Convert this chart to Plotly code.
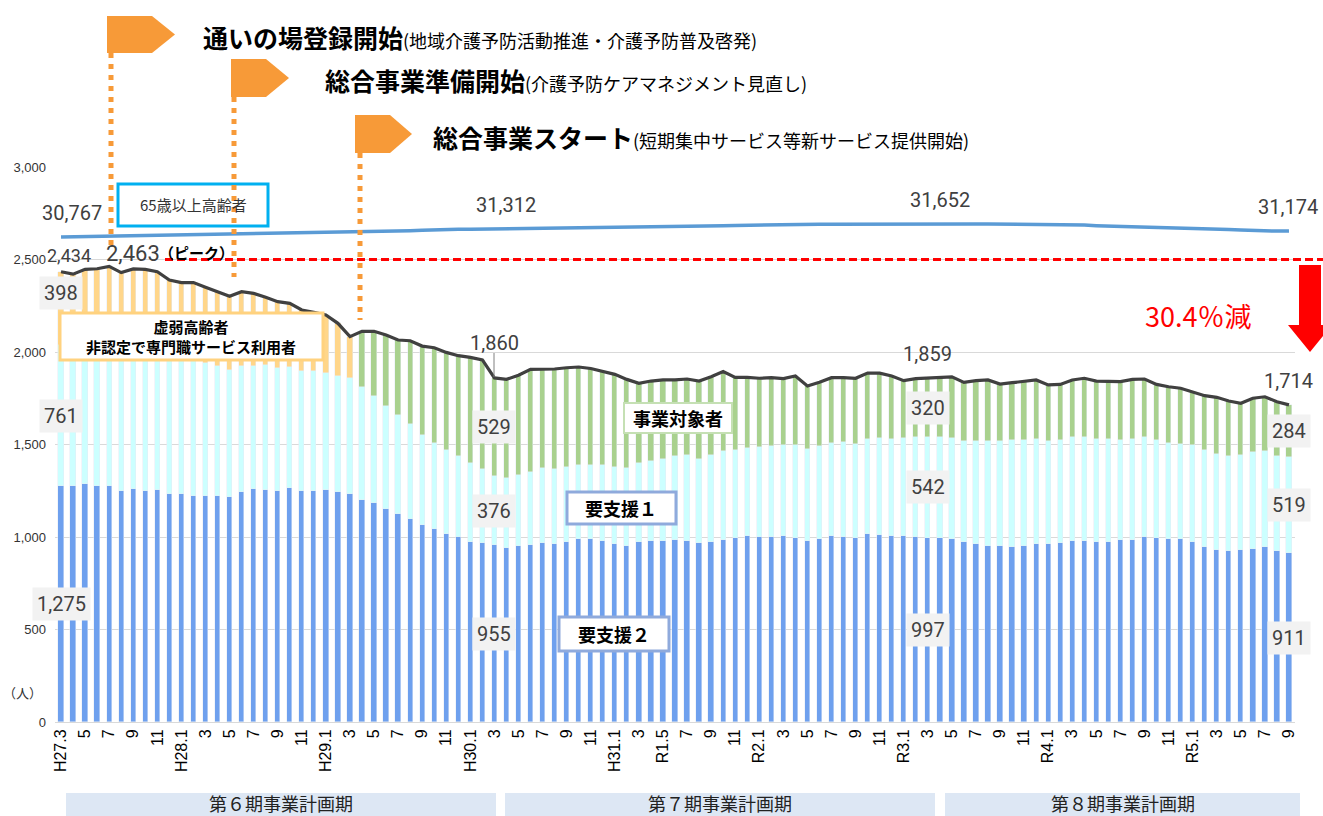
import plotly.graph_objects as go

# ---------------- data ----------------
# monthly categories H27.3 (2015-03) .. R5.9 (2023-09)
categories = []
y, m = 2015, 3
while (y, m) <= (2023, 9):
    categories.append(f"{y}-{m:02d}")
    m += 1
    if m > 12:
        m, y = 1, y + 1

tick_labels = ["H27.3", "5", "7", "9", "11",
               "H28.1", "3", "5", "7", "9", "11",
               "H29.1", "3", "5", "7", "9", "11",
               "H30.1", "3", "5", "7", "9", "11",
               "H31.1", "3", "R1.5", "7", "9", "11",
               "R2.1", "3", "5", "7", "9", "11",
               "R3.1", "3", "5", "7", "9", "11",
               "R4.1", "3", "5", "7", "9", "11",
               "R5.1", "3", "5", "7", "9"]

# 要支援２
yoshien2 = [1275, 1278, 1286, 1278, 1276, 1248, 1262, 1248, 1254, 1232, 1235, 1221, 1219,
             1221, 1216, 1243, 1259, 1254, 1246, 1265, 1248, 1248, 1254, 1243, 1232,
             1200, 1182, 1150, 1123, 1095, 1064, 1041, 1017, 1001, 974, 967, 955, 943,
             951, 956, 969, 962, 971, 987, 988, 976, 964, 951, 972, 978, 978, 983, 981,
             967, 972, 983, 994, 1005, 1002, 1002, 1005, 994, 980, 991, 1005, 998, 994,
             1016, 1010, 1008, 1005, 999, 997, 996, 988, 972, 960, 951, 951, 945, 951,
             962, 962, 969, 978, 978, 972, 972, 983, 985, 999, 994, 987, 991, 972, 945,
             929, 927, 932, 934, 945, 927, 911]
# 要支援１
yoshien1 = [761, 752, 749, 747, 744, 747, 738, 742, 731, 743, 733, 737, 722,
             701, 685, 683, 667, 678, 666, 656, 651, 648, 633, 625, 628,
             611, 579, 557, 535, 518, 486, 467, 455, 435, 426, 401, 376, 376,
             386, 394, 404, 408, 409, 404, 403, 412, 413, 422, 428, 435, 444, 453, 461,
             455, 470, 480, 478, 476, 485, 492, 494, 502, 496, 499, 503, 514, 509,
             516, 525, 524, 530, 542, 542, 545, 547, 545, 557, 566, 566, 581, 575,
             570, 555, 553, 563, 561, 558, 558, 543, 545, 540, 528, 521, 512, 527, 527,
             520, 513, 513, 524, 518, 509, 519]
# 虚弱高齢者（H27.3〜H29.3）
kyojaku = [398, 391, 412, 425, 443, 434, 449, 457, 449, 414, 407, 417, 409,
           404, 400, 400, 391, 364, 360, 342, 328, 318, 313, 287, 223]
# 事業対象者（H29.4〜R5.9）
jigyo = [301, 351, 385, 407, 448, 482, 515, 526, 544, 571, 589, 529, 533,
         537, 556, 533, 538, 535, 528, 520, 506, 502, 479, 431, 430, 427, 413, 412,
         421, 424, 431, 391, 382, 371, 367, 357, 374, 340, 346, 353, 349, 355, 354,
         351, 338, 310, 315, 320, 322, 331, 319, 328, 332, 310, 308, 317, 317, 305,
         303, 308, 319, 313, 313, 314, 322, 315, 303, 304, 301, 287, 292, 306, 295,
         278, 292, 295, 295, 284]
# 65歳以上高齢者
elderly = [30767, 30780, 30790, 30800, 30815, 30825, 30840, 30850, 30865, 30880, 30900, 30920, 30947,
           30960, 30975, 30985, 31000, 31010, 31020, 31030, 31040, 31050, 31060, 31075, 31090, 31100,
           31120, 31140, 31160, 31190, 31220, 31252, 31265, 31275, 31285, 31295, 31312,
           31300, 31305, 31310, 31315, 31319, 31330, 31340, 31350, 31360, 31375, 31385, 31395, 31405, 31420, 31432,
           31450, 31470, 31490, 31510, 31530, 31550, 31570, 31590, 31610, 31625, 31632,
           31620, 31615, 31620, 31630, 31635, 31640, 31645, 31648, 31650, 31652,
           31645, 31640, 31638, 31635, 31630, 31628, 31625, 31622, 31618, 31615, 31612,
           31590, 31560, 31519, 31500, 31480, 31460, 31440, 31420, 31400, 31375, 31346,
           31320, 31290, 31260, 31230, 31200, 31180, 31160, 31174]

n_k = len(kyojaku)
third = kyojaku + jigyo
cyan_top = [a + b for a, b in zip(yoshien2, yoshien1)]
total = [c + t for c, t in zip(cyan_top, third)]

# ---------------- geometry helpers (pixel -> paper) ----------------
L, R, T, B = 55, 1295, 167, 722
def fx(px):
    return (px - L) / (R - L)
def fy(py):
    return (B - py) / (B - T)

JP = "Noto Sans CJK JP"
NUM = "Roboto"
C_BLUE = "#6EA0EE"
C_CYAN = "#CCFFFF"
C_GREEN = "#A9D18E"
C_ORANGE = "#FFD68A"
C_FLAG = "#F79A38"

fig = go.Figure()
bw = 0.44
fig.add_bar(x=categories, y=yoshien2, marker_color=C_BLUE, width=bw, name="要支援２")
fig.add_bar(x=categories, y=yoshien1, marker_color=C_CYAN, width=bw, name="要支援１")
fig.add_bar(x=categories[n_k:], y=jigyo, marker_color=C_GREEN, width=bw, name="事業対象者")
fig.add_bar(x=categories[:n_k], y=kyojaku, marker_color=C_ORANGE, width=bw, name="虚弱高齢者")
fig.add_scatter(x=categories, y=total, mode="lines", line=dict(color="#404040", width=3.2), name="合計")
fig.add_scatter(x=categories, y=elderly, mode="lines", yaxis="y2",
                line=dict(color="#5B9BD5", width=3.5), name="65歳以上高齢者")

shapes = []
annots = []

def rect_px(x0, y0, x1, y1, fill, line_color, lw, layer="above"):
    shapes.append(dict(type="rect", xref="paper", yref="paper",
                       x0=fx(x0), x1=fx(x1), y0=fy(y0), y1=fy(y1),
                       fillcolor=fill, line=dict(color=line_color, width=lw), layer=layer))

def text_px(px, py, text, size, color="#000000", family=JP, xanchor="center"):
    annots.append(dict(xref="paper", yref="paper", x=fx(px), y=fy(py), text=text,
                       showarrow=False, xanchor=xanchor, yanchor="middle",
                       font=dict(size=size, color=color, family=family)))

# period boxes
for x0, x1, label in [(66, 496, "第６期事業計画期"), (505, 935, "第７期事業計画期"), (945, 1300, "第８期事業計画期")]:
    rect_px(x0, 793, x1, 830, "#DDE7F4", "rgba(0,0,0,0)", 0)
    text_px((x0 + x1) / 2, 803, label, 18, "#222222")

# red dashed line at 2,500 and arrow
shapes.append(dict(type="line", xref="paper", yref="y", x0=fx(165), x1=fx(1323), y0=2500, y1=2500,
                   line=dict(color="#FF0000", width=2.8, dash="8px,4px"), layer="above"))
ax0, ax1, hx0, hx1, tipx = 1299, 1321, 1288, 1332, 1310
path = (f"M {fx(ax0)},{fy(265)} L {fx(ax1)},{fy(265)} L {fx(ax1)},{fy(325)} L {fx(hx1)},{fy(325)} "
        f"L {fx(tipx)},{fy(352)} L {fx(hx0)},{fy(325)} L {fx(ax0)},{fy(325)} Z")
shapes.append(dict(type="path", xref="paper", yref="paper", path=path,
                   fillcolor="#FF0000", line=dict(color="#FF0000", width=0), layer="above"))
text_px(1198, 315, "30.4％減", 27, "#FF0000")

# label boxes
rect_px(118, 184, 268, 226, "white", "#00B0F0", 3)
rect_px(60, 313, 323, 360, "white", "#FFD27F", 3)
rect_px(624, 403, 732, 433, "white", "#C5E0B4", 2)
rect_px(567, 492, 676, 524, "white", "#8FAADC", 3)
rect_px(559, 617, 669, 651, "white", "#8FAADC", 3)

# flags and dotted guide lines
def flag(x0, y0, x1, y1, xs):
    ym = (y0 + y1) / 2
    p = (f"M {fx(x0)},{fy(y0)} L {fx(xs)},{fy(y0)} L {fx(x1)},{fy(ym)} "
         f"L {fx(xs)},{fy(y1)} L {fx(x0)},{fy(y1)} Z")
    shapes.append(dict(type="path", xref="paper", yref="paper", path=p,
                       fillcolor=C_FLAG, line=dict(color=C_FLAG, width=0), layer="above"))

flag(107, 16, 175, 53, 152)
flag(231, 59, 289, 97, 266)
flag(355, 115, 412, 153, 390)
for lx, ly0, ly1 in [(111, 53, 250), (234, 97, 277), (360, 153, 320)]:
    shapes.append(dict(type="line", xref="paper", yref="paper", x0=fx(lx), x1=fx(lx),
                       y0=fy(ly0), y1=fy(ly1), line=dict(color=C_FLAG, width=5, dash="5px,6px"),
                       layer="above"))

# leader line for 1,860
shapes.append(dict(type="line", xref="paper", yref="paper", x0=fx(494), x1=fx(494),
                   y0=fy(353), y1=fy(377), line=dict(color="#808080", width=1), layer="above"))

# box texts
text_px(193, 205, "65歳以上高齢者", 15, "#333333")
text_px(191, 336, "<b>虚弱高齢者</b><br><b>非認定で専門職サービス利用者</b>", 15)
text_px(678, 418, "<b>事業対象者</b>", 18)
text_px(621, 508, "<b>要支援１</b>", 18)
text_px(614, 634, "<b>要支援２</b>", 18)
text_px(22, 692, "（人）", 13, "#333333")

# headline texts
def headline(px, py, bold, small):
    annots.append(dict(xref="paper", yref="paper", x=fx(px), y=fy(py), showarrow=False,
                       xanchor="left", yanchor="middle",
                       text=f"<b><span style='font-size:25px'>{bold}</span></b>"
                            f"<span style='font-size:18px'>{small}</span>",
                       font=dict(family=JP, color="#000000", size=18)))

headline(201, 37, "通いの場登録開始", "(地域介護予防活動推進・介護予防普及啓発)")
headline(323, 80, "総合事業準備開始", "(介護予防ケアマネジメント見直し)")
headline(431, 137, "総合事業スタート", "(短期集中サービス等新サービス提供開始)")

# data value labels
def val(i, yv, text, bg=True, size=20, xshift=0, yshift=0, yref="y"):
    d = dict(x=categories[i], y=yv, xref="x", yref=yref, text=text, showarrow=False,
             xanchor="center", yanchor="middle", xshift=xshift, yshift=yshift,
             font=dict(family=NUM, size=size, color="#404040"))
    if bg:
        d.update(bgcolor="#F2F2F2", borderpad=4)
    annots.append(d)

def fmt(v):
    return f"{v:,}"

for i in [0, 36, 72, 102]:
    val(i, yoshien2[i] / 2, fmt(yoshien2[i]))
    val(i, yoshien2[i] + yoshien1[i] / 2, fmt(yoshien1[i]))
i0 = 0
val(i0, cyan_top[i0] + third[i0] / 2, fmt(third[i0]), yshift=16)
for i in [36, 72, 102]:
    val(i, cyan_top[i] + third[i] / 2, fmt(third[i]))

val(0, total[0], fmt(total[0]), bg=False, size=18, xshift=8, yshift=16)
peak = total.index(max(total))
val(peak, total[peak], fmt(total[peak]), bg=False, size=22, xshift=24, yshift=13)
annots.append(dict(x=categories[peak], y=total[peak], xref="x", yref="y", text="<b>（ピーク）</b>",
                   showarrow=False, xanchor="center", yanchor="middle", xshift=87, yshift=14,
                   font=dict(family=JP, size=15, color="#000000")))
val(36, total[36], fmt(total[36]), bg=False, xshift=0, yshift=35)
val(72, total[72], fmt(total[72]), bg=False, yshift=24)
val(102, total[102], fmt(total[102]), bg=False, yshift=24)

for i, xs in [(0, 11), (36, 12), (72, 12), (102, -1)]:
    val(i, elderly[i], fmt(elderly[i]), bg=False, xshift=xs, yshift=24, yref="y2")

# y2 range so the elderly line sits just above the bars
v_a, p_a, v_b, p_b = 30767, 237, 31652, 223.7
per_px = (v_b - v_a) / (p_a - p_b)
y2_lo = v_a - (B - p_a) * per_px
y2_hi = v_a + (p_a - T) * per_px

fig.update_layout(
    width=1323, height=816, autosize=False,
    margin=dict(l=L, r=1323 - R, t=T, b=816 - B, pad=0),
    barmode="stack", bargap=0, showlegend=False,
    plot_bgcolor="white", paper_bgcolor="white",
    font=dict(family=NUM),
    xaxis=dict(type="category", range=[-0.5, len(categories) - 0.5],
               tickmode="array", tickvals=categories[::2], ticktext=tick_labels,
               tickangle=-90, tickfont=dict(family="Liberation Sans, Arial", size=16, color="#000000"),
               showgrid=False, showline=True, linecolor="#D9D9D9", linewidth=1, ticks=""),
    yaxis=dict(range=[0, 3000], tickvals=[0, 500, 1000, 1500, 2000, 2500, 3000],
               tickformat=",", gridcolor="#D9D9D9", gridwidth=1, zeroline=False, showline=False,
               tickfont=dict(family="Liberation Sans, Arial", size=13, color="#333333"),
               ticklabelstandoff=8),
    yaxis2=dict(overlaying="y", range=[y2_lo, y2_hi], visible=False),
    shapes=shapes, annotations=annots,
)

fig.write_html("out.html")
